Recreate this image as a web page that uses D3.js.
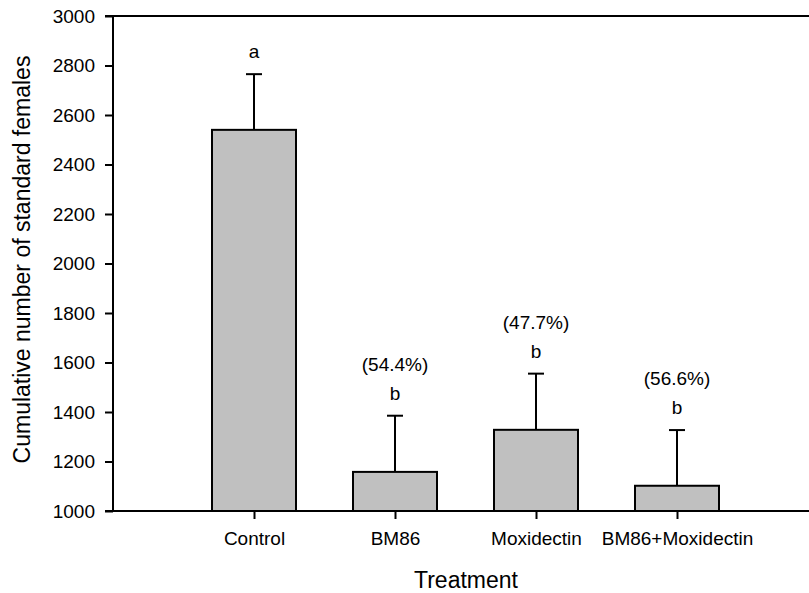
<!DOCTYPE html>
<html>
<head>
<meta charset="utf-8">
<script src="https://cdn.jsdelivr.net/npm/d3@7"></script>
<style>
  body { margin: 0; background: #fff; }
  text { font-family: "Liberation Sans", Arial, sans-serif; fill: #000; }
</style>
</head>
<body>
<div id="chart"></div>
<script>
// data
var categories = ["Control", "BM86", "Moxidectin", "BM86+Moxidectin"];
var means = [2540, 1158, 1328, 1102];
var errors = [225, 227, 227, 225];
var letters = ["a", "b", "b", "b"];
var reductions = ["", "(54.4%)", "(47.7%)", "(56.6%)"];
var yTicks = [1000, 1200, 1400, 1600, 1800, 2000, 2200, 2400, 2600, 2800, 3000];

var width = 809, height = 593;
var margin = { top: 16, right: 0, bottom: 82, left: 113 };
var step = 141;

var svg = d3.select("#chart").append("svg")
  .attr("width", width)
  .attr("height", height);

var y = d3.scaleLinear()
  .domain([1000, 3000])
  .range([height - margin.bottom, margin.top]);

var x = d3.scalePoint()
  .domain(categories)
  .range([margin.left + step, margin.left + step * categories.length]);

var barW = 84;

// bars
svg.selectAll("rect.bar")
  .data(categories)
  .enter()
  .append("rect")
  .attr("class", "bar")
  .attr("x", d => x(d) - barW / 2)
  .attr("y", (d, i) => y(means[i]))
  .attr("width", barW)
  .attr("height", (d, i) => y(1000) - y(means[i]))
  .attr("fill", "#c0c0c0")
  .attr("stroke", "#000")
  .attr("stroke-width", 2);

// error bars (upper only)
var err = svg.selectAll("g.err")
  .data(categories)
  .enter()
  .append("g")
  .attr("class", "err");
err.append("line")
  .attr("x1", d => x(d)).attr("x2", d => x(d))
  .attr("y1", (d, i) => y(means[i]))
  .attr("y2", (d, i) => y(means[i] + errors[i]))
  .attr("stroke", "#000").attr("stroke-width", 2);
err.append("line")
  .attr("x1", d => x(d) - 8).attr("x2", d => x(d) + 8)
  .attr("y1", (d, i) => y(means[i] + errors[i]))
  .attr("y2", (d, i) => y(means[i] + errors[i]))
  .attr("stroke", "#000").attr("stroke-width", 2);

// significance letters and reduction percentages
svg.selectAll("text.letter")
  .data(categories)
  .enter()
  .append("text")
  .attr("class", "letter")
  .attr("x", d => x(d))
  .attr("y", (d, i) => y(means[i] + errors[i]) - 16)
  .attr("text-anchor", "middle")
  .style("font-size", "19px")
  .text((d, i) => letters[i]);

svg.selectAll("text.pct")
  .data(categories)
  .enter()
  .append("text")
  .attr("class", "pct")
  .attr("x", d => x(d))
  .attr("y", (d, i) => y(means[i] + errors[i]) - 45)
  .attr("text-anchor", "middle")
  .style("font-size", "19px")
  .text((d, i) => reductions[i]);

// y axis
var yAxis = svg.append("g")
  .attr("transform", "translate(" + margin.left + ",0)")
  .call(d3.axisLeft(y).tickValues(yTicks).tickSize(8).tickPadding(10).tickFormat(d3.format("d")));
yAxis.select(".domain").remove();
yAxis.selectAll("line").attr("stroke", "#000").attr("stroke-width", 2);
yAxis.selectAll("text").style("font-size", "19px").style("font-family", "Liberation Sans, Arial, sans-serif");
svg.append("line")
  .attr("x1", margin.left).attr("x2", margin.left)
  .attr("y1", y(3000)).attr("y2", y(1000))
  .attr("stroke", "#000").attr("stroke-width", 2);

// top frame line
svg.append("line")
  .attr("x1", margin.left - 8).attr("x2", width)
  .attr("y1", y(3000)).attr("y2", y(3000))
  .attr("stroke", "#000").attr("stroke-width", 2);

// x axis
var xAxis = svg.append("g")
  .attr("transform", "translate(0," + y(1000) + ")")
  .call(d3.axisBottom(x).tickSize(8).tickPadding(13));
xAxis.select(".domain").remove();
xAxis.selectAll("line").attr("stroke", "#000").attr("stroke-width", 2);
xAxis.selectAll("text").style("font-size", "19px").style("font-family", "Liberation Sans, Arial, sans-serif");
svg.append("line")
  .attr("x1", margin.left - 8).attr("x2", width)
  .attr("y1", y(1000)).attr("y2", y(1000))
  .attr("stroke", "#000").attr("stroke-width", 2);

// axis titles
svg.append("text")
  .attr("x", (margin.left + width) / 2 + 5)
  .attr("y", 588)
  .attr("text-anchor", "middle")
  .style("font-size", "23px")
  .text("Treatment");

svg.append("text")
  .attr("transform", "translate(30," + (y(2000) - 4) + ") rotate(-90)")
  .attr("text-anchor", "middle")
  .style("font-size", "23px")
  .text("Cumulative number of standard females");
</script>
</body>
</html>
